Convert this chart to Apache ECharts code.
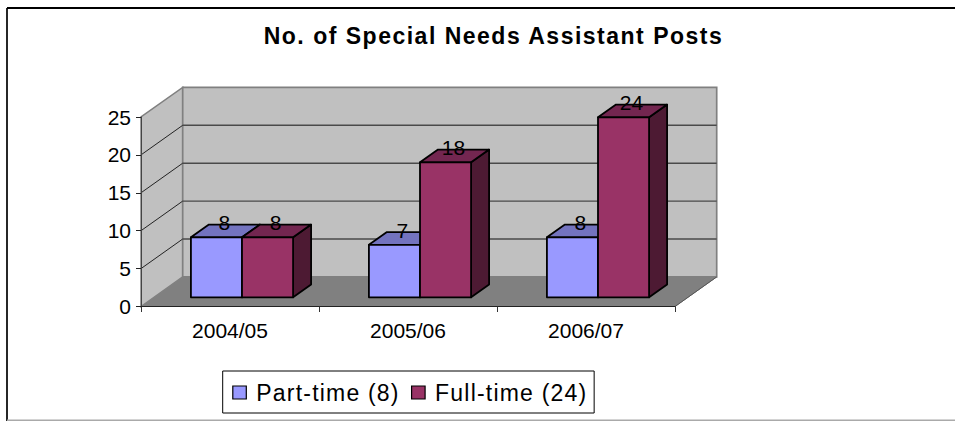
<!DOCTYPE html>
<html>
<head>
<meta charset="utf-8">
<style>
html,body{margin:0;padding:0;background:#fff;overflow:hidden;width:955px;height:421px}
#chart{width:955px;height:421px}
/* The reference sets its title and legend with open letter spacing. */
#chart text[style*="23px"]{letter-spacing:1.2px}
#chart text[style*="bold"]{letter-spacing:1.5px}
</style>
<script src="https://cdn.jsdelivr.net/npm/echarts@6/dist/echarts.min.js"></script>
</head>
<body>
<div id="chart"></div>
<script>
const categories = ['2004/05', '2005/06', '2006/07'];
const partTime = [8, 7, 8];
const fullTime = [8, 18, 24];
const yTicks = [0, 5, 10, 15, 20, 25];
const partName = 'Part-time (8)';
const fullName = 'Full-time (24)';
const titleText = 'No. of Special Needs Assistant Posts';

const FONT = '"Liberation Sans", Arial, sans-serif';

const wallDX = 41.7, wallDY = 29.6;
const barDX = 18, barDY = 12.7;

const chart = echarts.init(document.getElementById('chart'), null, {renderer:'svg'});

function renderWalls(params, api) {
  const band = api.size([1, 0])[0];
  const left = api.coord([0, 0])[0] - band / 2;
  const right = api.coord([categories.length - 1, 0])[0] + band / 2;
  const y = v => api.coord([0, v])[1];
  const y0 = y(0), yTop = y(yTicks[yTicks.length - 1]);
  const kids = [
    {type:'polygon', shape:{points:[[left,y0],[left+wallDX,y0-wallDY],[right+wallDX,y0-wallDY],[right,y0]]},
     style:{fill:'#808080', stroke:'#808080', lineWidth:1}},
    {type:'polygon', shape:{points:[[left,y0],[left+wallDX,y0-wallDY],[left+wallDX,yTop-wallDY],[left,yTop]]},
     style:{fill:'#c0c0c0', stroke:'#808080', lineWidth:1.5}},
    {type:'rect', shape:{x:left+wallDX, y:yTop-wallDY, width:right-left, height:y0-yTop},
     style:{fill:'#c0c0c0', stroke:'#808080', lineWidth:1.7}}
  ];
  yTicks.slice(1, -1).forEach(v => {
    const yy = y(v);
    kids.push({type:'line', shape:{x1:left, y1:yy, x2:left+wallDX, y2:yy-wallDY},
      style:{stroke:'#111', lineWidth:0.9}});
    kids.push({type:'line', shape:{x1:left+wallDX, y1:yy-wallDY, x2:right+wallDX, y2:yy-wallDY},
      style:{stroke:'#4a4a4a', lineWidth:1.4}});
  });
  kids.push({type:'line', shape:{x1:right, y1:y0, x2:right+wallDX, y2:y0-wallDY},
    style:{stroke:'#555', lineWidth:1}});
  return {type:'group', children:kids};
}

function barRenderer(side, front, top, dark) {
  return function (params, api) {
    const cat = api.value(0), val = api.value(1);
    const band = api.size([1, 0])[0];
    const w = band * 0.287;
    const c = api.coord([cat, 0])[0];
    const x0 = side < 0 ? c - w : c;
    const x1 = x0 + w;
    const yb = api.coord([cat, 0])[1];
    const yt = api.coord([cat, val])[1];
    const line = {stroke:'#000', lineWidth:1.8, lineJoin:'round'};
    return {type:'group', children:[
      {type:'polygon', shape:{points:[[x1,yt],[x1+barDX,yt-barDY],[x1+barDX,yb-barDY],[x1,yb]]},
       style:Object.assign({fill:dark}, line)},
      {type:'polygon', shape:{points:[[x0,yt],[x0+barDX,yt-barDY],[x1+barDX,yt-barDY],[x1,yt]]},
       style:Object.assign({fill:top}, line)},
      {type:'rect', shape:{x:x0, y:yt, width:w, height:yb-yt},
       style:Object.assign({fill:front}, line)},
      {type:'text', z2:50, style:{text:String(val), x:(x0+x1)/2+8, y:yt-barDY-2, align:'center',
        verticalAlign:'middle', fill:'#000', font:'21px ' + FONT}}
    ]};
  };
}

const toData = arr => arr.map((v, i) => [i, v]);

chart.setOption({
  animation:false,
  backgroundColor:'#fff',
  title:{text:titleText, left:488.5, textAlign:'center', top:19,
    textStyle:{fontFamily:FONT, fontSize:23, fontWeight:'bold', color:'#000'}},
  legend:{
    data:[
      {name:partName, icon:'rect', itemStyle:{color:'#9999ff', borderColor:'#000', borderWidth:1.2}},
      {name:fullName, icon:'rect', itemStyle:{color:'#993366', borderColor:'#000', borderWidth:1.2}}
    ],
    left:222.7, top:371, orient:'horizontal', itemWidth:13.5, itemHeight:13, itemGap:26.9,
    padding:[10,23.6,9,9.5], borderColor:'#000', borderWidth:1, backgroundColor:'#fff',
    selectedMode:false, textStyle:{fontFamily:FONT, fontSize:23, color:'#000', padding:[0,0,0,5]}
  },
  grid:[
    {left:141, width:534, top:117, height:189.5},
    {left:153, width:534, top:109.8, height:187.5}
  ],
  xAxis:[
    {type:'category', gridIndex:0, data:categories, z:3, boundaryGap:true,
     axisLine:{lineStyle:{color:'#222', width:1}},
     axisTick:{show:true, length:5.5, lineStyle:{color:'#333'}},
     axisLabel:{fontFamily:FONT, fontSize:21, color:'#000', margin:13}, splitLine:{show:false}},
    {type:'category', gridIndex:1, data:categories, show:false}
  ],
  yAxis:[
    {type:'value', gridIndex:0, min:0, max:25, interval:5, z:3,
     axisLine:{show:true, lineStyle:{color:'#444', width:1}},
     axisTick:{show:true, length:5, lineStyle:{color:'#222'}},
     axisLabel:{fontFamily:FONT, fontSize:21, color:'#000', margin:10, padding:[0,0,4,0]}, splitLine:{show:false}},
    {type:'value', gridIndex:1, min:0, max:25, interval:5, show:false, splitLine:{show:false}}
  ],
  series:[
    {type:'custom', name:'walls', xAxisIndex:0, yAxisIndex:0, z:1, silent:true, clip:false,
     data:[[0,0]], renderItem:renderWalls},
    {type:'custom', name:partName, xAxisIndex:1, yAxisIndex:1, z:4, clip:false, silent:true,
     itemStyle:{color:'#9999ff'}, data:toData(partTime), renderItem:barRenderer(-1,'#9999ff','#7373bf','#4d4d80')},
    {type:'custom', name:fullName, xAxisIndex:1, yAxisIndex:1, z:5, clip:false, silent:true,
     itemStyle:{color:'#993366'}, data:toData(fullTime), renderItem:barRenderer(1,'#993366','#732650','#4d1a33')}
  ],
  graphic:[
    {type:'line', silent:true, shape:{x1:7, y1:8, x2:955, y2:8}, style:{stroke:'#000', lineWidth:2}},
    {type:'line', silent:true, shape:{x1:7, y1:8, x2:7, y2:421}, style:{stroke:'#000', lineWidth:1.7}},
    {type:'line', silent:true, shape:{x1:7, y1:420.3, x2:955, y2:420.3}, style:{stroke:'#aaa', lineWidth:1.4}}
  ]
});
</script>
</body>
</html>
